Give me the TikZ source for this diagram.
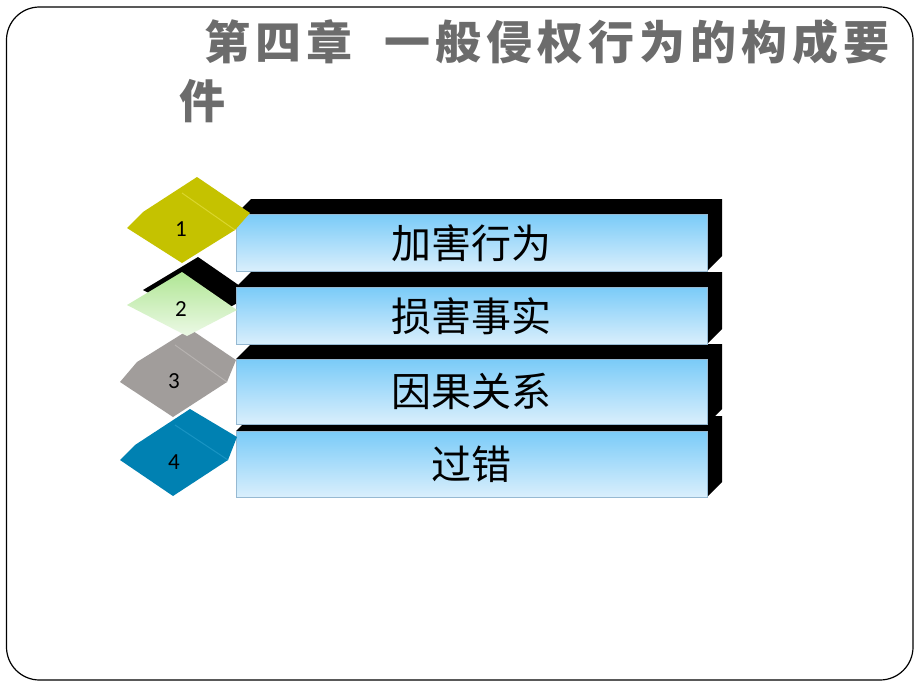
\documentclass[tikz,border=0pt]{standalone}
\usepackage{fontspec}
\newfontfamily\cjk{Noto Sans CJK SC}
\newfontfamily\numfont{Carlito}
\definecolor{titlegray}{RGB}{108,108,108}
\definecolor{bartop}{RGB}{122,203,248}
\definecolor{barbot}{RGB}{218,239,252}
\definecolor{barline}{RGB}{150,185,210}
\definecolor{dyellow}{RGB}{197,194,0}
\definecolor{dyellowf}{RGB}{218,214,45}
\definecolor{dgray}{RGB}{161,157,155}
\definecolor{dgrayf}{RGB}{182,178,176}
\definecolor{dblue}{RGB}{0,129,178}
\definecolor{dbluef}{RGB}{25,148,195}
\definecolor{dgreent}{RGB}{176,230,148}
\definecolor{dgreenb}{RGB}{236,249,230}
\newcommand\tsp{\kern5pt}
\newcommand\bartext[1]{\raisebox{-4pt}{#1}}
\begin{document}
\begin{tikzpicture}[x=1pt,y=-1pt,
  barbox/.style={draw=barline, line width=0.6pt, top color=bartop, bottom color=barbot,
    minimum width=471pt, minimum height=#1, inner sep=0pt, anchor=north west,
    font=\cjk\fontsize{40}{40}\selectfont},
  depth/.style={fill=black},
  numlabel/.style={font=\numfont\fontsize{23}{23}\selectfont, text=black, inner sep=0pt},
  fold/.style={line width=1pt},
  titletext/.style={font=\cjk\bfseries\fontsize{46}{46}\selectfont, text=titlegray, inner sep=0pt, anchor=base west}]
\useasboundingbox (0,0) rectangle (920,690);
\fill[white] (0,0) rectangle (920,690);
\draw[line width=1.2pt, rounded corners=33pt] (6.5,7) rectangle (913,680);

% title
\node[titletext] (title1) at (204,60) {第\tsp 四\tsp 章\kern32pt 一\tsp 般\tsp 侵\tsp 权\tsp 行\tsp 为\tsp 的\tsp 构\tsp 成\tsp 要};
\node[titletext] (title2) at (179,118) {件};

% item 4
\fill[depth] (236,431) -- (251,416) -- (722,416) -- (722,482) -- (707,497) -- cycle;
\node[barbox=66pt] (bar4) at (236,431) {\bartext{过错}};
\fill[dblue] (190,409) -- (237,437) -- (228,460) -- (173,496) -- (120,460) -- (135,445) -- cycle;
\draw[fold, dbluef] (175,425) -- (228,460);
\node[numlabel] (n4) at (174,462) {4};

% item 3
\fill[depth] (236,359) -- (251,344) -- (722,344) -- (722,409) -- (707,424) -- cycle;
\node[barbox=65pt] (bar3) at (236,359) {\bartext{因果关系}};
\fill[dgray] (190,329) -- (236,360) -- (227,382) -- (173,417) -- (120,382) -- (137,362) -- cycle;
\draw[fold, dgrayf] (175,345) -- (227,382);
\node[numlabel] (n3) at (174,381) {3};

% item 2
\fill[depth] (236,287) -- (251,272) -- (722,272) -- (722,329) -- (707,344) -- cycle;
\fill[depth] (198,257) -- (253,295) -- (203,321) -- (143,290) -- cycle;
\node[barbox=57pt] (bar2) at (236,287) {\bartext{损害事实}};
\shade[top color=dgreent, bottom color=dgreenb] (182,272) -- (237,310) -- (187,336) -- (127,305) -- cycle;
\node[numlabel] (n2) at (181,309) {2};

% item 1
\fill[depth] (236,214) -- (251,199) -- (722,199) -- (722,256) -- (707,271) -- cycle;
\node[barbox=57pt] (bar1) at (236,214) {\bartext{加害行为}};
\fill[dyellow] (197,177) -- (250,213) -- (235,230) -- (182,263) -- (127,228) -- (143,212) -- cycle;
\draw[fold, dyellowf] (182,193) -- (235,230);
\node[numlabel] (n1) at (181,229) {1};
\end{tikzpicture}
\end{document}
